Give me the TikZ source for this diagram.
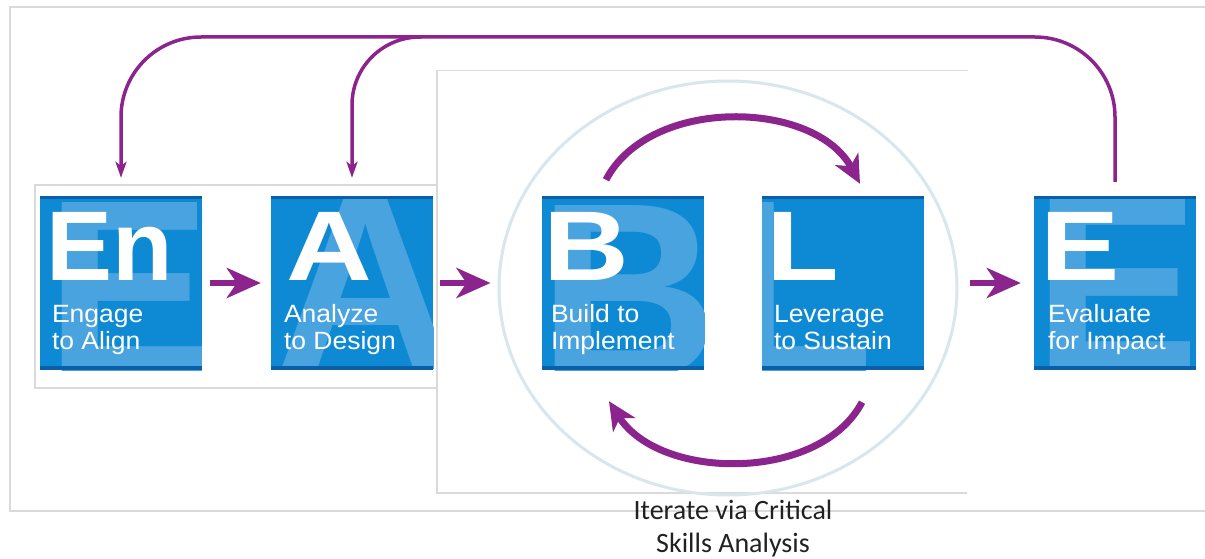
\documentclass[tikz,border=0pt]{standalone}
\usepackage{fontspec}
\setmainfont{Liberation Sans}
\newfontfamily\notefont{Carlito}
\usetikzlibrary{arrows.meta,shapes.geometric,calc}

\definecolor{tileblue}{RGB}{14,137,211}
\definecolor{tiledark}{RGB}{10,96,168}
\definecolor{ghostblue}{RGB}{72,163,223}
\definecolor{loopviolet}{RGB}{140,36,142}
\definecolor{ringgray}{RGB}{216,231,237}
\definecolor{framegray}{RGB}{218,218,218}

\tikzset{
    tile/.style n args={4}{rectangle,fill=tileblue,inner sep=0pt,minimum width=162pt,minimum height=174pt,
        path picture={
            \node[ghost] (#1) at ([xshift=#3,yshift=#4]path picture bounding box.north west) {#2};
            \fill[tiledark] (path picture bounding box.north west) rectangle ([yshift=-3pt]path picture bounding box.north east);
            \fill[tiledark] (path picture bounding box.south west) rectangle ([yshift=4pt]path picture bounding box.south east);
        }},
    ghost/.style={anchor=north west,inner sep=0pt,text=ghostblue,font=\bfseries\fontsize{250}{250}\selectfont},
    initial/.style={anchor=base west,inner sep=0pt,text=white,font=\bfseries\fontsize{99}{99}\selectfont},
    tagline/.style={anchor=north west,inner sep=0pt,align=left,text=white,font=\fontsize{25}{27}\selectfont,xscale=1.06},
    ring/.style={ellipse,draw=ringgray,line width=3pt,minimum width=458pt,minimum height=414pt,inner sep=0pt},
    panel/.style={draw=framegray,line width=1.5pt},
    hop/.style={-{Stealth[length=34pt,width=30pt,inset=10pt]},draw=loopviolet,line width=6pt},
    feedback/.style={-{Stealth[length=16pt,width=11pt,inset=4pt]},draw=loopviolet,line width=3.5pt},
    spin/.style={-{Stealth[length=28pt,width=26pt,inset=8pt]},draw=loopviolet,line width=7pt},
    note/.style={anchor=north,inner sep=0pt,align=center,text=black!87,font=\notefont\fontsize{28}{33}\selectfont}
}

\begin{document}
\begin{tikzpicture}[x=1pt,y=-1pt]
\useasboundingbox (0,0) rectangle (1205,559);

% frames of the pasted pieces
\draw[panel] (1205,7) -- (10,7) -- (10,511) -- (1205,511);
\draw[panel] (437,185) -- (35,185) -- (35,388) -- (437,388);
\fill[white] (437,70.5) rectangle (968,493);
\draw[panel] (968,70.5) -- (437,70.5) -- (437,493) -- (967,493);

\node[ring] (cyc) at (728,288) {};

% the five stages
\node[tile={EnG}{E}{5pt}{-5pt}]   (En) at (121,283) {};
\node[tile={AG}{A}{4pt}{0pt}]     (A)  at (352,283) {};
\node[tile={BG}{B}{-4pt}{-8pt}]   (B)  at (623,283) {};
\node[tile={LG}{L}{-45pt}{-5pt}]  (L)  at (843,283) {};
\node[tile={EG}{E}{-1pt}{0pt}]    (E)  at (1115,283) {};

\node[initial]            (EnI) at ([xshift=6pt,yshift=-85pt]En.north west) {En};
\node[initial,xscale=1.2] (AI)  at ([xshift=15pt,yshift=-85pt]A.north west)  {A};
\node[initial,xscale=1.2] (BI)  at ([xshift=1pt,yshift=-85pt]B.north west)   {B};
\node[initial,xscale=1.2] (LI)  at ([xshift=4pt,yshift=-85pt]L.north west)   {L};
\node[initial,xscale=1.2] (EI)  at ([xshift=6pt,yshift=-85pt]E.north west)   {E};

\node[tagline] (EnT) at ([xshift=12pt,yshift=-108pt]En.north west) {\strut Engage\\\strut to Align};
\node[tagline] (AT)  at ([xshift=13pt,yshift=-108pt]A.north west)  {\strut Analyze\\\strut to Design};
\node[tagline] (BT)  at ([xshift=9pt,yshift=-108pt]B.north west)   {\strut Build to\\\strut Implement};
\node[tagline] (LT)  at ([xshift=12pt,yshift=-108pt]L.north west)  {\strut Leverage\\\strut to Sustain};
\node[tagline] (ET)  at ([xshift=14pt,yshift=-108pt]E.north west)  {\strut Evaluate\\\strut for Impact};

% forward steps
\draw[hop] ([xshift=8pt]En.east) -- ([xshift=-10pt]A.west);
\draw[hop] ([xshift=7pt]A.east) -- ([xshift=-7pt]A.east -| cyc.west);
\draw[hop] ([xshift=11pt]E.west -| cyc.east) -- ([xshift=-13pt]E.west);

% iterate between B and L
\draw[spin] ([xshift=-17pt,yshift=16pt]B.north) .. controls +(44,-84) and +(-45,-84) .. ([xshift=17pt,yshift=12pt]L.north);
\draw[spin] ([xshift=19pt,yshift=-32pt]L.south) .. controls +(-42,80) and +(51,80) .. ([xshift=-14pt,yshift=-31pt]B.south);

% feedback from evaluation
\coordinate (ridge) at (0,37);
\draw[feedback,rounded corners=80pt] ([yshift=14pt]E.north) |- (En.north |- ridge) -- ([yshift=18pt]En.north);
\draw[feedback,rounded corners=68pt] ($(A.north |- ridge)+(70,0)$) -| ([yshift=18pt]A.north);

\node[note] (iterate) at (733,496) {\strut Iterate via Critical\\\strut Skills Analysis};
\end{tikzpicture}
\end{document}
